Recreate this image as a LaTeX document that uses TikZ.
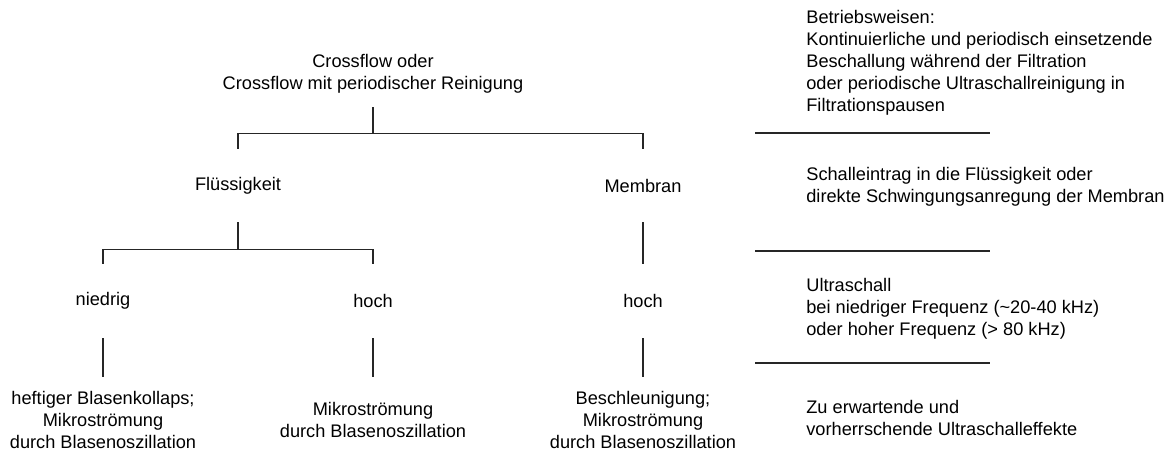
\documentclass[tikz,border=0pt]{standalone}
\usepackage{fontspec}
\setmainfont{Liberation Sans}
\usepackage{tikz}
\usetikzlibrary{calc}

\tikzset{
  txt/.style={font=\fontsize{10.36}{12.52}\selectfont, align=center, inner sep=0pt},
  ebene1/.style={txt, minimum height=1.46cm},
  ebene2/.style={txt, minimum height=1.48cm},
  effekt/.style={txt, minimum height=1.70cm},
  notiz/.style={txt, align=left, anchor=west},
  ast/.style={line width=0.8pt, draw=black!85},
  trenner/.style={line width=0.7pt, draw=black!85}
}

\begin{document}
\begin{tikzpicture}
    \useasboundingbox (0,0) rectangle (23.5,-9);
    % Baum
    \node[txt, minimum height=1.34cm] (cross) at (7.46,-1.47) {Crossflow oder\\Crossflow mit periodischer Reinigung};
    \node[ebene1] (fluessig) at (4.76,-3.71) {Flüssigkeit};
    \node[ebene1] (membran) at (12.86,-3.71) {Membran};
    \node[ebene2] (niedrig) at (2.06,-6.02) {niedrig};
    \node[ebene2] (hochF) at (7.46,-6.02) {hoch};
    \node[ebene2] (hochM) at (12.86,-6.02) {hoch};
    % Effekte
    \node[effekt] (effN) at (2.06,-8.39) {heftiger Blasenkollaps;\\Mikroströmung\\durch Blasenoszillation};
    \node[effekt] (effF) at (7.46,-8.39) {Mikroströmung\\durch Blasenoszillation};
    \node[effekt] (effM) at (12.86,-8.39) {Beschleunigung;\\Mikroströmung\\durch Blasenoszillation};
    % Linien
    \draw[ast] (cross.south) -- ++(0,-0.52) coordinate (gabel1);
    \draw[ast] (fluessig.north) |- (gabel1) -| (membran.north);
    \draw[ast] (fluessig.south) -- ++(0,-0.54) coordinate (gabel2);
    \draw[ast] (niedrig.north) |- (gabel2) -| (hochF.north);
    \draw[ast] (membran.south) -- (hochM.north);
    \draw[ast] (niedrig.south) -- (effN.north);
    \draw[ast] (hochF.south) -- (effF.north);
    \draw[ast] (hochM.south) -- (effM.north);
    % Erklaerungen rechts
    \node[notiz] (betrieb) at (16.12,-1.25) {Betriebsweisen:\\Kontinuierliche und periodisch einsetzende\\Beschallung während der Filtration\\oder periodische Ultraschallreinigung in\\Filtrationspausen};
    \node[notiz] (eintrag) at (16.12,-3.74) {Schalleintrag in die Flüssigkeit oder\\direkte Schwingungsanregung der Membran};
    \node[notiz] (frequenz) at (16.12,-6.18) {Ultraschall\\bei niedriger Frequenz (\textasciitilde20-40 kHz)\\oder hoher Frequenz (> 80 kHz)};
    \node[notiz] (effekte) at (16.12,-8.36) {Zu erwartende und\\vorherrschende Ultraschalleffekte};
    \foreach \y in {-2.66,-5.02,-7.26}
        \draw[trenner] (15.1,\y) -- (19.8,\y);
\end{tikzpicture}
\end{document}
